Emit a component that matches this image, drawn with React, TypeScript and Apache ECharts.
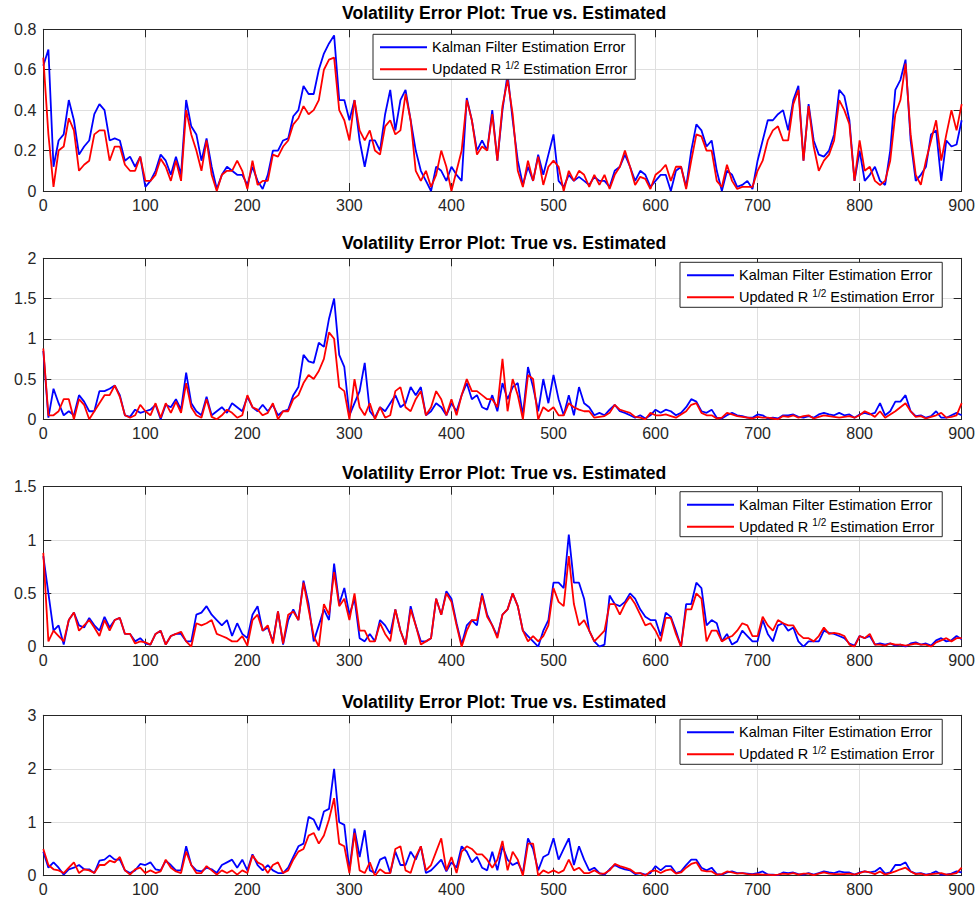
import React, { useEffect, useRef } from "react";
import * as echarts from "echarts";

// ---------------- data ----------------
const STEP = 5; // sample spacing on the x axis
const xTickValues = [0, 100, 200, 300, 400, 500, 600, 700, 800, 900];
const panelTitle = "Volatility Error Plot: True vs. Estimated";
const kfName = "Kalman Filter Estimation Error";
const urName = "Updated R^{1/2} Estimation Error";

const yMaxes = [0.8, 2, 1.5, 3];
const yIntervals = [0.2, 0.5, 0.5, 1];

const kf1 = [
  .62,.70,.12,.25,.28,.45,.35,.18,.22,.25,.38,.43,.40,.25,.26,.25,.15,.17,.12,.17,
  .02,.05,.10,.18,.15,.08,.17,.08,.45,.32,.28,.15,.26,.12,.01,.08,.12,.10,.08,.08,
  .03,.12,.05,.01,.08,.20,.20,.25,.26,.37,.40,.52,.48,.48,.60,.68,.73,.77,.45,.45,
  .35,.45,.25,.12,.25,.25,.20,.38,.50,.30,.45,.50,.35,.20,.10,.05,.0,.12,.10,.05,
  .12,.08,.05,.46,.35,.20,.25,.20,.40,.15,.40,.58,.35,.15,.03,.12,.05,.18,.08,.18,
  .28,.05,.02,.08,.05,.07,.05,.03,.07,.05,.05,.02,.10,.12,.18,.12,.05,.10,.08,.02,
  .05,.08,.08,.0,.10,.12,.02,.20,.33,.30,.22,.25,.10,.0,.10,.08,.02,.03,.05,.01,
  .15,.25,.35,.35,.38,.40,.30,.45,.52,.15,.43,.25,.18,.17,.20,.28,.50,.47,.35,.05,
  .20,.05,.08,.12,.05,.03,.20,.50,.55,.65,.25,.05,.08,.12,.28,.30,.05,.25,.22,.23,
  .35,
];
const ur1 = [
  .66,.28,.02,.20,.22,.36,.30,.10,.13,.15,.28,.30,.30,.15,.22,.22,.13,.10,.10,.17,
  .05,.05,.08,.16,.12,.05,.15,.05,.40,.28,.20,.10,.25,.08,.0,.08,.10,.10,.15,.10,
  .01,.15,.03,.05,.05,.18,.17,.22,.25,.33,.36,.42,.38,.40,.45,.60,.65,.66,.40,.35,
  .25,.45,.30,.25,.30,.20,.18,.32,.35,.28,.30,.48,.35,.10,.05,.10,.02,.08,.20,.12,
  .0,.10,.20,.45,.35,.18,.22,.20,.38,.15,.42,.55,.38,.10,.02,.15,.05,.17,.03,.12,
  .15,.12,.0,.10,.05,.10,.08,.02,.08,.03,.08,.01,.08,.12,.20,.12,.03,.07,.06,.01,
  .08,.10,.13,.05,.12,.12,.01,.15,.28,.27,.20,.20,.05,.02,.13,.05,.01,.02,.02,.02,
  .10,.15,.25,.30,.32,.25,.25,.43,.50,.15,.42,.22,.10,.15,.18,.25,.45,.40,.33,.05,
  .25,.10,.12,.05,.03,.05,.15,.38,.45,.63,.28,.08,.03,.15,.25,.35,.15,.28,.40,.30,
  .43,
];
const kf2 = [
  .85,.02,.38,.20,.05,.10,.05,.30,.22,.10,.10,.35,.35,.38,.42,.30,.05,.03,.12,.08,
  .10,.12,.18,.0,.18,.15,.25,.12,.58,.20,.10,.05,.28,.05,.10,.15,.08,.20,.15,.10,
  .28,.15,.10,.18,.10,.18,.05,.10,.12,.30,.40,.80,.72,.70,.95,.90,1.25,1.50,.80,.65,
  .05,.20,.35,.70,.10,.02,.15,.10,.20,.30,.15,.20,.40,.30,.40,.05,.10,.20,.15,.05,
  .20,.10,.30,.45,.25,.30,.15,.12,.30,.10,.45,.25,.40,.45,.05,.65,.40,.10,.50,.20,
  .55,.25,.05,.30,.05,.40,.20,.15,.05,.08,.05,.12,.18,.10,.08,.05,.02,.05,.01,.05,
  .12,.08,.12,.10,.05,.08,.15,.25,.22,.10,.08,.12,.02,.01,.05,.08,.05,.04,.02,.02,
  .06,.05,.01,.02,.01,.05,.05,.06,.03,.02,.04,.02,.06,.08,.06,.05,.08,.05,.06,.02,
  .06,.08,.06,.08,.20,.05,.10,.22,.22,.30,.10,.04,.05,.02,.04,.10,.02,.02,.05,.08,
  .05,
];
const ur2 = [
  .88,.05,.05,.10,.25,.25,.0,.25,.18,.0,.10,.20,.30,.30,.42,.28,.05,.02,.05,.18,
  .10,.05,.20,.02,.20,.08,.22,.08,.45,.15,.05,.02,.25,.03,.0,.05,.12,.08,.02,.05,
  .30,.15,.12,.05,.08,.20,.0,.10,.10,.25,.30,.45,.55,.50,.60,.75,1.08,1.0,.40,.35,
  .0,.50,.15,.05,.20,.0,.15,.02,.05,.35,.40,.15,.10,.25,.35,.05,.15,.35,.25,.05,
  .25,.05,.30,.50,.35,.35,.30,.25,.25,.15,.75,.10,.50,.30,.0,.55,.50,.0,.15,.10,
  .15,.05,.05,.20,.15,.12,.10,.10,.02,.03,.04,.08,.18,.12,.10,.08,.03,.02,.0,.08,
  .05,.05,.06,.04,.02,.06,.10,.18,.20,.08,.05,.05,.01,.02,.08,.06,.04,.03,.02,.01,
  .03,.02,.02,.01,.0,.04,.03,.05,.02,.04,.05,.01,.03,.05,.04,.03,.02,.03,.04,.02,
  .05,.10,.07,.03,.10,.02,.06,.10,.15,.20,.10,.03,.04,.01,.03,.05,.08,.02,.03,.05,
  .20,
];
const kf3 = [
  .85,.50,.15,.20,.02,.25,.32,.20,.18,.27,.20,.15,.28,.18,.25,.27,.12,.12,.05,.08,
  .03,.02,.12,.15,.02,.10,.12,.12,.05,.05,.30,.32,.38,.30,.25,.20,.25,.10,.22,.12,
  .08,.30,.38,.15,.18,.05,.33,.02,.25,.35,.25,.62,.40,.05,.20,.35,.25,.78,.40,.55,
  .30,.45,.08,.05,.12,.05,.25,.20,.12,.35,.15,.02,.38,.20,.05,.05,.08,.45,.30,.52,
  .45,.22,.02,.20,.25,.20,.50,.30,.20,.10,.30,.35,.50,.38,.15,.10,.05,.0,.15,.25,
  .60,.60,.55,1.05,.60,.60,.45,.15,.05,.0,.02,.48,.40,.38,.42,.50,.45,.35,.28,.25,
  .25,.10,.32,.28,.15,.0,.40,.40,.60,.55,.20,.25,.22,.05,.12,.02,.05,.15,.10,.05,
  .05,.25,.12,.05,.20,.22,.15,.18,.05,.0,.05,.05,.05,.15,.13,.12,.10,.08,.03,.01,
  .10,.08,.10,.02,.03,.02,.03,.01,.02,.0,.03,.04,.02,.03,.01,.06,.08,.05,.06,.10,
  .07,
];
const ur3 = [
  .88,.05,.15,.10,.05,.25,.32,.15,.20,.25,.18,.10,.25,.15,.25,.27,.12,.12,.03,.05,
  .04,.02,.12,.15,.02,.10,.12,.14,.05,.0,.22,.20,.22,.25,.12,.10,.08,.05,.05,.10,
  .01,.25,.30,.15,.20,.03,.33,.03,.30,.33,.25,.60,.35,.10,.0,.40,.30,.70,.38,.45,
  .25,.50,.15,.15,.05,.05,.22,.12,.05,.35,.15,.02,.35,.20,.02,.05,.08,.45,.30,.50,
  .42,.20,.0,.15,.25,.25,.48,.28,.20,.08,.30,.35,.50,.38,.15,.05,.10,.05,.10,.20,
  .55,.42,.38,.85,.40,.20,.25,.15,.05,.10,.15,.40,.40,.30,.40,.47,.40,.30,.20,.22,
  .15,.05,.27,.27,.12,.0,.35,.35,.50,.45,.05,.15,.15,.05,.08,.10,.15,.22,.20,.10,
  .10,.28,.20,.15,.25,.22,.20,.20,.12,.08,.08,.05,.10,.18,.12,.13,.12,.10,.02,.0,
  .10,.08,.12,.02,.02,.01,.03,.02,.02,.01,.02,.03,.02,.02,.0,.04,.06,.08,.05,.08,
  .08,
];
const kf4 = [
  .45,.15,.25,.15,.02,.12,.15,.20,.12,.12,.05,.28,.30,.38,.30,.30,.10,.05,.10,.22,
  .20,.25,.12,.10,.28,.20,.10,.10,.55,.20,.10,.08,.15,.12,.05,.20,.25,.30,.15,.30,
  .10,.40,.20,.10,.20,.10,.05,.05,.15,.35,.55,.60,1.10,1.05,.85,1.20,1.25,2.00,1.00,.95,
  .10,.88,.35,.85,.10,.05,.30,.35,.05,.45,.20,.20,.45,.30,.55,.05,.10,.20,.30,.08,
  .25,.15,.55,.45,.25,.35,.15,.10,.45,.10,.55,.30,.20,.25,.05,.70,.50,.10,.35,.40,
  .70,.30,.50,.70,.20,.55,.30,.10,.15,.05,.02,.12,.20,.15,.12,.10,.03,.05,.02,.05,
  .18,.10,.18,.18,.05,.08,.20,.30,.30,.15,.10,.15,.03,.02,.06,.08,.05,.05,.04,.03,
  .05,.08,.02,.02,.01,.06,.05,.06,.03,.02,.05,.02,.05,.08,.06,.05,.08,.06,.06,.02,
  .06,.08,.06,.08,.15,.04,.06,.20,.20,.25,.08,.04,.05,.02,.04,.08,.02,.02,.04,.08,
  .06,
];
const ur4 = [
  .50,.20,.12,.10,.05,.15,.25,.05,.12,.10,.05,.20,.20,.28,.25,.35,.10,.02,.12,.15,
  .05,.10,.05,.08,.30,.15,.08,.05,.45,.20,.05,.05,.18,.10,.02,.10,.05,.10,.02,.10,
  .05,.38,.25,.20,.05,.20,.25,.05,.10,.30,.45,.50,.75,.80,.60,.75,1.05,1.45,.60,.55,
  .05,.80,.10,.05,.25,.0,.12,.05,.05,.50,.55,.10,.05,.35,.55,.10,.20,.45,.70,.10,
  .35,.05,.45,.55,.50,.40,.40,.30,.15,.30,.65,.10,.45,.30,.0,.60,.60,.0,.10,.05,
  .10,.05,.10,.30,.10,.15,.05,.05,.10,.04,.04,.10,.22,.18,.15,.12,.05,.05,.0,.08,
  .10,.05,.10,.12,.04,.06,.15,.22,.25,.10,.08,.08,.02,.03,.08,.06,.04,.05,.03,.02,
  .03,.02,.02,.01,.02,.04,.03,.05,.02,.04,.04,.01,.04,.06,.04,.03,.03,.03,.04,.02,
  .05,.08,.06,.03,.08,.02,.05,.08,.12,.15,.08,.03,.04,.01,.03,.04,.05,.02,.03,.05,
  .15,
];

const kfSeries = [kf1, kf2, kf3, kf4];
const urSeries = [ur1, ur2, ur3, ur4];

// ---------------- layout / style ----------------
const FONT = '"Liberation Sans", Arial, Helvetica, sans-serif';
const AX = "#262626";
const GRIDC = "#dfdfdf";
const PLOT_LEFT = 43.3;
const PLOT_WIDTH = 921.7;
const gridTops = [29.3, 258.3, 486.7, 715.3];
const gridHeights = [161.7, 161, 160, 160.4];
const titleTops = [4.3, 234.3, 463.7, 692.7];
const legendPos = [
  [373, 34.3],
  [680, 262.3],
  [680, 491.7],
  [680, 719.3],
];

function pairs(arr: number[]) {
  return arr.map((v, i) => [i * STEP, v]);
}

function buildOption() {
  const grid: any[] = [];
  const xAxis: any[] = [];
  const yAxis: any[] = [];
  const series: any[] = [];
  const title: any[] = [];
  const legend: any[] = [];

  for (let i = 0; i < 4; i++) {
    grid.push({
      left: PLOT_LEFT,
      top: gridTops[i],
      width: PLOT_WIDTH,
      height: gridHeights[i],
      containLabel: false,
    });
    title.push({
      text: panelTitle,
      left: PLOT_LEFT + PLOT_WIDTH / 2,
      top: titleTops[i],
      textAlign: "center",
      padding: 0,
      textStyle: { fontFamily: FONT, fontSize: 17.6, fontWeight: "bold", color: "#000" },
    });
    legend.push({
      data: [kfName, urName],
      orient: "vertical",
      left: legendPos[i][0],
      top: legendPos[i][1],
      icon: "rect",
      itemWidth: 47,
      itemHeight: 2,
      itemGap: 4,
      padding: [4, 8, 1, 7],
      borderColor: AX,
      borderWidth: 1,
      borderRadius: 0,
      backgroundColor: "#ffffff",
      selectedMode: false,
      itemStyle: { borderWidth: 0 },
      formatter: (name: string) =>
        name === urName ? "Updated R {s|1/2} Estimation Error" : name,
      textStyle: {
        fontFamily: FONT,
        fontSize: 14.5,
        color: "#000",
        lineHeight: 18,
        rich: {
          s: { fontFamily: FONT, fontSize: 10, color: "#000", lineHeight: 10, verticalAlign: "top" },
        },
      },
    });
  }

  // bottom x axes (0..3)
  for (let i = 0; i < 4; i++) {
    xAxis.push({
      type: "value",
      gridIndex: i,
      position: "bottom",
      min: xTickValues[0],
      max: xTickValues[xTickValues.length - 1],
      interval: 100,
      axisLine: { show: true, onZero: false, lineStyle: { color: AX, width: 1 } },
      axisTick: { show: true, inside: true, length: 8, lineStyle: { color: AX } },
      axisLabel: { color: AX, fontSize: 16, fontFamily: FONT, margin: 6 },
      splitLine: { show: true, lineStyle: { color: GRIDC, width: 1 } },
    });
  }
  // top x axes (4..7)
  for (let i = 0; i < 4; i++) {
    xAxis.push({
      type: "value",
      gridIndex: i,
      position: "top",
      min: xTickValues[0],
      max: xTickValues[xTickValues.length - 1],
      interval: 100,
      axisLine: { show: true, onZero: false, lineStyle: { color: AX, width: 1 } },
      axisTick: { show: true, inside: true, length: 8, lineStyle: { color: AX } },
      axisLabel: { show: false },
      splitLine: { show: false },
    });
  }
  // left y axes (0..3)
  for (let i = 0; i < 4; i++) {
    yAxis.push({
      type: "value",
      gridIndex: i,
      position: "left",
      min: 0,
      max: yMaxes[i],
      interval: yIntervals[i],
      axisLine: { show: true, onZero: false, lineStyle: { color: AX, width: 1 } },
      axisTick: { show: true, inside: true, length: 8, lineStyle: { color: AX } },
      axisLabel: { color: AX, fontSize: 16, fontFamily: FONT, margin: 7 },
      splitLine: { show: true, lineStyle: { color: GRIDC, width: 1 } },
    });
  }
  // right y axes (4..7)
  for (let i = 0; i < 4; i++) {
    yAxis.push({
      type: "value",
      gridIndex: i,
      position: "right",
      min: 0,
      max: yMaxes[i],
      interval: yIntervals[i],
      axisLine: { show: true, onZero: false, lineStyle: { color: AX, width: 1 } },
      axisTick: { show: true, inside: true, length: 8, lineStyle: { color: AX } },
      axisLabel: { show: false },
      splitLine: { show: false },
    });
  }

  for (let i = 0; i < 4; i++) {
    series.push({
      name: kfName,
      type: "line",
      xAxisIndex: i,
      yAxisIndex: i,
      data: pairs(kfSeries[i]),
      symbol: "none",
      showSymbol: false,
      color: "#0000ff",
      lineStyle: { color: "#0000ff", width: 1.8 },
      z: 2,
    });
    series.push({
      name: urName,
      type: "line",
      xAxisIndex: i,
      yAxisIndex: i,
      data: pairs(urSeries[i]),
      symbol: "none",
      showSymbol: false,
      color: "#ff0000",
      lineStyle: { color: "#ff0000", width: 1.8 },
      z: 3,
    });
  }

  return {
    animation: false,
    backgroundColor: "#ffffff",
    title,
    legend,
    grid,
    xAxis,
    yAxis,
    series,
  };
}

export default function App() {
  const ref = useRef<HTMLDivElement>(null);
  useEffect(() => {
    if (!ref.current) return;
    const chart = echarts.init(ref.current, undefined, { renderer: "svg" });
    chart.setOption(buildOption() as any);
    return () => chart.dispose();
  }, []);
  return (
    <div
      ref={ref}
      style={{ position: "fixed", left: 0, top: 0, width: 978, height: 905, background: "#fff" }}
    />
  );
}
